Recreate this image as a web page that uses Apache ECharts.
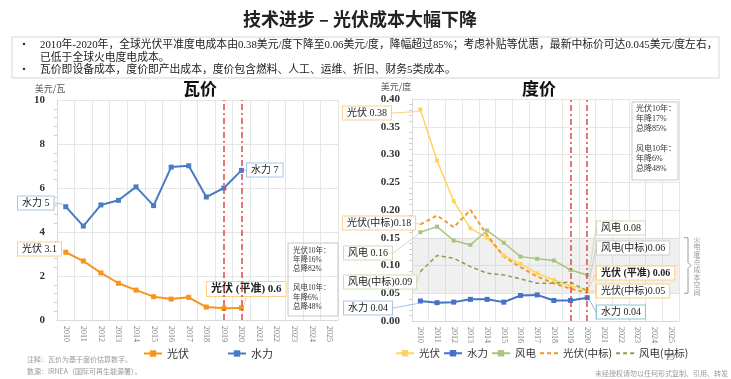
<!DOCTYPE html>
<html><head><meta charset="utf-8">
<script src="https://cdn.jsdelivr.net/npm/echarts@6/dist/echarts.min.js"></script>
<style>html,body{margin:0;padding:0;background:#fff}#c{width:731px;height:379px}</style>
</head><body><div id="c"></div>
<script>
// ---------- data ----------
const years = ['2010','2011','2012','2013','2014','2015','2016','2017','2018','2019','2020','2021','2022','2023','2024','2025'];
const wattSolar = [3.08, 2.68, 2.14, 1.67, 1.36, 1.06, 0.95, 1.03, 0.59, 0.53, 0.55];
const wattHydro = [5.15, 4.27, 5.23, 5.44, 6.05, 5.20, 6.95, 7.01, 5.59, 6.00, 6.80];
const kwhSolar    = [0.381, 0.289, 0.216, 0.167, 0.150, 0.118, 0.103, 0.086, 0.074, 0.063, 0.057];
const kwhHydro    = [0.036, 0.033, 0.034, 0.039, 0.039, 0.034, 0.046, 0.047, 0.037, 0.037, 0.042];
const kwhWind     = [0.160, 0.170, 0.145, 0.137, 0.163, 0.141, 0.116, 0.112, 0.109, 0.092, 0.083];
const kwhSolarBid = [0.174, 0.190, 0.169, 0.200, 0.155, 0.116, 0.097, 0.080, 0.068, 0.058, 0.051];
const kwhWindBid  = [0.089, 0.118, 0.113, 0.098, 0.086, 0.083, 0.076, 0.068, 0.068, 0.070, 0.054];
const markYears = ['2019', '2020'];
const thermalBand = [0.05, 0.15];
const wattTicks = {min: 0, max: 10, interval: 2};
const kwhTicks = {min: 0, max: 0.4, interval: 0.05};

// ---------- styles ----------
const SERIF = '"Liberation Serif","Noto Sans CJK SC",serif';
const CJK = '"Noto Sans CJK SC",sans-serif';
const C = {solarW:'#f7941d', hydroW:'#4a7cc3', solar:'#ffd45e', hydro:'#4472c4', wind:'#a9c47f', solarBid:'#f59a23', windBid:'#86a04f', red:'#e0464c'};

// label annotations (layout only)
const L = {
  solarW: {0:{t:'光伏 3.1', x:18, y:249, b:'#fbd08a'}, 10:{t:'光伏 (平准) 0.6', x:207, y:289, b:'#fbd08a', bold:true, fs:11}},
  hydroW: {0:{t:'水力 5', x:18, y:203, b:'#a9c6e8'}, 10:{t:'水力 7', x:247, y:170, b:'#a9c6e8'}},
  solar:  {0:{t:'光伏 0.38', x:343, y:113, b:'#fbd08a'}, 10:{t:'光伏 (平准) 0.06', x:597, y:273, b:'#fbd08a', bold:true}},
  hydro:  {0:{t:'水力 0.04', x:344, y:308, b:'#a9c6e8'}, 10:{t:'水力 0.04', x:597, y:312, b:'#8cc3d3'}},
  wind:   {0:{t:'风电 0.16', x:344, y:253, b:'#cfdcb8'}, 10:{t:'风电 0.08', x:597, y:228, b:'#cfdcb8'}},
  solarBid:{0:{t:'光伏(中标)0.18', x:343, y:223, b:'#fbd08a'}, 10:{t:'光伏(中标)0.05', x:597, y:291, b:'#fbd08a'}},
  windBid:{0:{t:'风电(中标)0.09', x:344, y:282, b:'#cfdcb8'}, 10:{t:'风电(中标)0.06', x:597, y:248, b:'#cccccc'}}
};

function labeled(values, labels, extra) {
  return values.map((v, i) => {
    const c = labels[i];
    if (!c) return v;
    return Object.assign({
      value: v,
      label: {show: true, formatter: c.t, fontFamily: SERIF, fontSize: c.fs || 10,
        fontWeight: c.bold ? 'bold' : 'normal', color: '#222', backgroundColor: '#fff',
        borderColor: c.b, borderWidth: 1, padding: [2, 4, 1, 4]},
      labelLine: {show: true, lineStyle: {color: c.b, width: 1}}
    }, extra || {});
  });
}
function layoutFor(labels) {
  return p => { const c = labels[p.dataIndex]; return c ? {x: c.x, y: c.y, align: 'left', verticalAlign: 'middle'} : {}; };
}
const redLines = {
  silent: true, symbol: 'none', label: {show: false},
  lineStyle: {color: C.red, type: [6, 3, 2, 3], width: 1.5},
  data: markYears.map(y => ({xAxis: y}))
};

function xAx(gi) {
  return {type: 'category', gridIndex: gi, data: years, boundaryGap: true,
    axisLine: {lineStyle: {color: '#d9d9d9'}}, axisTick: {show: false},
    axisLabel: {rotate: -90, interval: 0, fontSize: 8, color: '#7f7f7f', fontFamily: SERIF, margin: 6},
    splitLine: {show: true, interval: 0, lineStyle: {color: '#e6e6e6'}}};
}
function yAx(gi, t, fmt) {
  return {type: 'value', gridIndex: gi, min: t.min, max: t.max, interval: t.interval,
    axisLine: {show: true, lineStyle: {color: '#d9d9d9'}}, axisTick: {show: false},
    minorTick: {show: true, splitNumber: 5, length: 3, lineStyle: {color: '#cfcfcf'}},
    axisLabel: {fontSize: 11, fontWeight: 'bold', color: '#333', fontFamily: SERIF, margin: 12, formatter: fmt},
    splitLine: {lineStyle: {color: '#e6e6e6'}}};
}

function lineSeries(name, gi, data, color, opt) {
  return Object.assign({
    name: name, type: 'line', xAxisIndex: gi, yAxisIndex: gi, data: data,
    symbol: 'rect', symbolSize: 5, color: color,
    lineStyle: {color: color, width: 2}, itemStyle: {color: color},
    labelLine: {show: true}, emphasis: {disabled: true}, z: 3
  }, opt || {});
}

const chart = echarts.init(document.getElementById('c'));

const infoLeft = '光伏10年：\n年降16%\n总降82%\n\n风电10年：\n年降6%\n总降48%';
const infoRight = '光伏10年：\n年降17%\n总降85%\n\n风电10年：\n年降6%\n总降48%';

const option = {
  animation: false,
  backgroundColor: '#fff',
  grid: [{left: 57, top: 100, width: 281, height: 220}, {left: 412, top: 99, width: 267, height: 222}],
  xAxis: [xAx(0), xAx(1)],
  yAxis: [yAx(0, wattTicks), yAx(1, kwhTicks, v => v.toFixed(2))],
  legend: [
    {left: 138, top: 343, itemGap: 38, itemWidth: 18, itemHeight: 8,
      textStyle: {fontSize: 11, fontFamily: CJK, color: '#333'}, data: ['光伏', '水力']},
    {left: 390, top: 343, itemGap: 3, itemWidth: 18, itemHeight: 8, formatter: n => n.trim(),
      textStyle: {fontSize: 10.5, fontFamily: CJK, color: '#333'},
      data: ['光伏 ', '水力 ', '风电', {name: '光伏(中标)', itemStyle: {opacity: 0}}, {name: '风电(中标)', itemStyle: {opacity: 0}}]}
  ],
  series: [
    lineSeries('光伏', 0, labeled(wattSolar, L.solarW), C.solarW, {labelLayout: layoutFor(L.solarW), markLine: redLines}),
    lineSeries('水力', 0, labeled(wattHydro, L.hydroW), C.hydroW, {labelLayout: layoutFor(L.hydroW)}),
    lineSeries('光伏 ', 1, labeled(kwhSolar, L.solar), C.solar, {labelLayout: layoutFor(L.solar), symbolSize: 4, lineStyle: {color: C.solar, width: 1.5}, markLine: redLines}),
    lineSeries('水力 ', 1, labeled(kwhHydro, L.hydro), C.hydro, {labelLayout: layoutFor(L.hydro),
      markArea: {silent: true, itemStyle: {color: 'rgba(200,200,200,0.28)'}, data: [[{yAxis: thermalBand[0]}, {yAxis: thermalBand[1]}]]}}),
    lineSeries('风电', 1, labeled(kwhWind, L.wind), C.wind, {labelLayout: layoutFor(L.wind), symbolSize: 4, lineStyle: {color: C.wind, width: 1.5}}),
    lineSeries('光伏(中标)', 1, labeled(kwhSolarBid, L.solarBid, {symbol: 'circle', symbolSize: 1}), C.solarBid, {labelLayout: layoutFor(L.solarBid), symbol: 'none', lineStyle: {color: C.solarBid, width: 2, type: [4, 3]}}),
    lineSeries('风电(中标)', 1, labeled(kwhWindBid, L.windBid, {symbol: 'circle', symbolSize: 1}), C.windBid, {labelLayout: layoutFor(L.windBid), symbol: 'none', lineStyle: {color: C.windBid, width: 1.5, type: [4, 3]}})
  ]
};
chart.setOption(option);

// bracket for thermal band, placed from the axis scale
const pTop = chart.convertToPixel({gridIndex: 1}, ['2025', thermalBand[1]]);
const pBot = chart.convertToPixel({gridIndex: 1}, ['2025', thermalBand[0]]);
const bx = 684, yT = pTop[1], yB = pBot[1], yM = (yT + yB) / 2;

chart.setOption({
  graphic: [
    {type: 'text', x: 360, y: 19, style: {text: '技术进步 – 光伏成本大幅下降', font: 'bold 18px ' + CJK, fill: '#222', align: 'center', verticalAlign: 'middle'}},
    {type: 'rect', shape: {x: 12, y: 37, width: 707, height: 41}, style: {fill: 'none', stroke: '#d6d6d6', lineWidth: 1}},
    {type: 'text', x: 20, y: 40, style: {text: '▪', font: '8px ' + CJK, fill: '#333'}},
    {type: 'text', x: 40, y: 40, style: {text: '2010年-2020年，全球光伏平准度电成本由0.38美元/度下降至0.06美元/度，降幅超过85%；考虑补贴等优惠，最新中标价可达0.045美元/度左右，', font: '10.8px ' + SERIF, fill: '#222'}},
    {type: 'text', x: 40, y: 52.5, style: {text: '已低于全球火电度电成本。', font: '10.8px ' + SERIF, fill: '#222'}},
    {type: 'text', x: 20, y: 64.5, style: {text: '▪', font: '8px ' + CJK, fill: '#333'}},
    {type: 'text', x: 40, y: 64.5, style: {text: '瓦价即设备成本，度价即产出成本，度价包含燃料、人工、运维、折旧、财务5类成本。', font: '10.8px ' + SERIF, fill: '#222'}},
    {type: 'text', x: 200, y: 89, style: {text: '瓦价', font: 'bold 17px ' + CJK, fill: '#111', align: 'center', verticalAlign: 'middle'}},
    {type: 'text', x: 539, y: 89, style: {text: '度价', font: 'bold 17px ' + CJK, fill: '#111', align: 'center', verticalAlign: 'middle'}},
    {type: 'text', x: 50, y: 89, style: {text: '美元/瓦', font: '9px ' + CJK, fill: '#555', align: 'center', verticalAlign: 'middle'}},
    {type: 'text', x: 396, y: 87, style: {text: '美元/度', font: '9px ' + CJK, fill: '#555', align: 'center', verticalAlign: 'middle'}},
    {type: 'rect', shape: {x: 288, y: 243, width: 50, height: 73}, style: {fill: 'none', stroke: '#c8c8c8', lineWidth: 1}},
    {type: 'text', x: 293, y: 246, style: {text: infoLeft, font: '7.5px ' + SERIF, fill: '#333', lineHeight: 9.4}},
    {type: 'rect', shape: {x: 632, y: 102, width: 46, height: 78}, style: {fill: '#fff', stroke: '#c8c8c8', lineWidth: 1}},
    {type: 'text', x: 636, y: 104, style: {text: infoRight, font: '8px ' + SERIF, fill: '#333', lineHeight: 10}},
    {type: 'polyline', shape: {points: [[bx, yT], [bx + 4, yT], [bx + 4, yM - 3], [bx + 7, yM], [bx + 4, yM + 3], [bx + 4, yB], [bx, yB]]}, style: {stroke: '#999', lineWidth: 1, fill: 'none'}},
    {type: 'text', x: 697, y: yM, style: {text: '火\n电\n度\n点\n成\n本\n空\n间', font: '7px ' + CJK, fill: '#999', lineHeight: 7.6, align: 'center', verticalAlign: 'middle'}},
    {type: 'text', x: 27, y: 356, style: {text: '注释：瓦价为基于度价估算数字。', font: '7px ' + CJK, fill: '#999'}},
    {type: 'text', x: 27, y: 368, style: {text: '数源：IRNEA（国际可再生能源署）。', font: '7px ' + CJK, fill: '#999'}},
    {type: 'text', x: 670, y: 357, style: {text: '19', font: '10px ' + SERIF, fill: '#888', align: 'center', verticalAlign: 'middle'}},
    {type: 'text', x: 728, y: 373, style: {text: '未经授权请勿以任何形式复制、引用、转发', font: '7px ' + CJK, fill: '#999', align: 'right', verticalAlign: 'middle'}}
  ]
});
</script>
</body></html>
